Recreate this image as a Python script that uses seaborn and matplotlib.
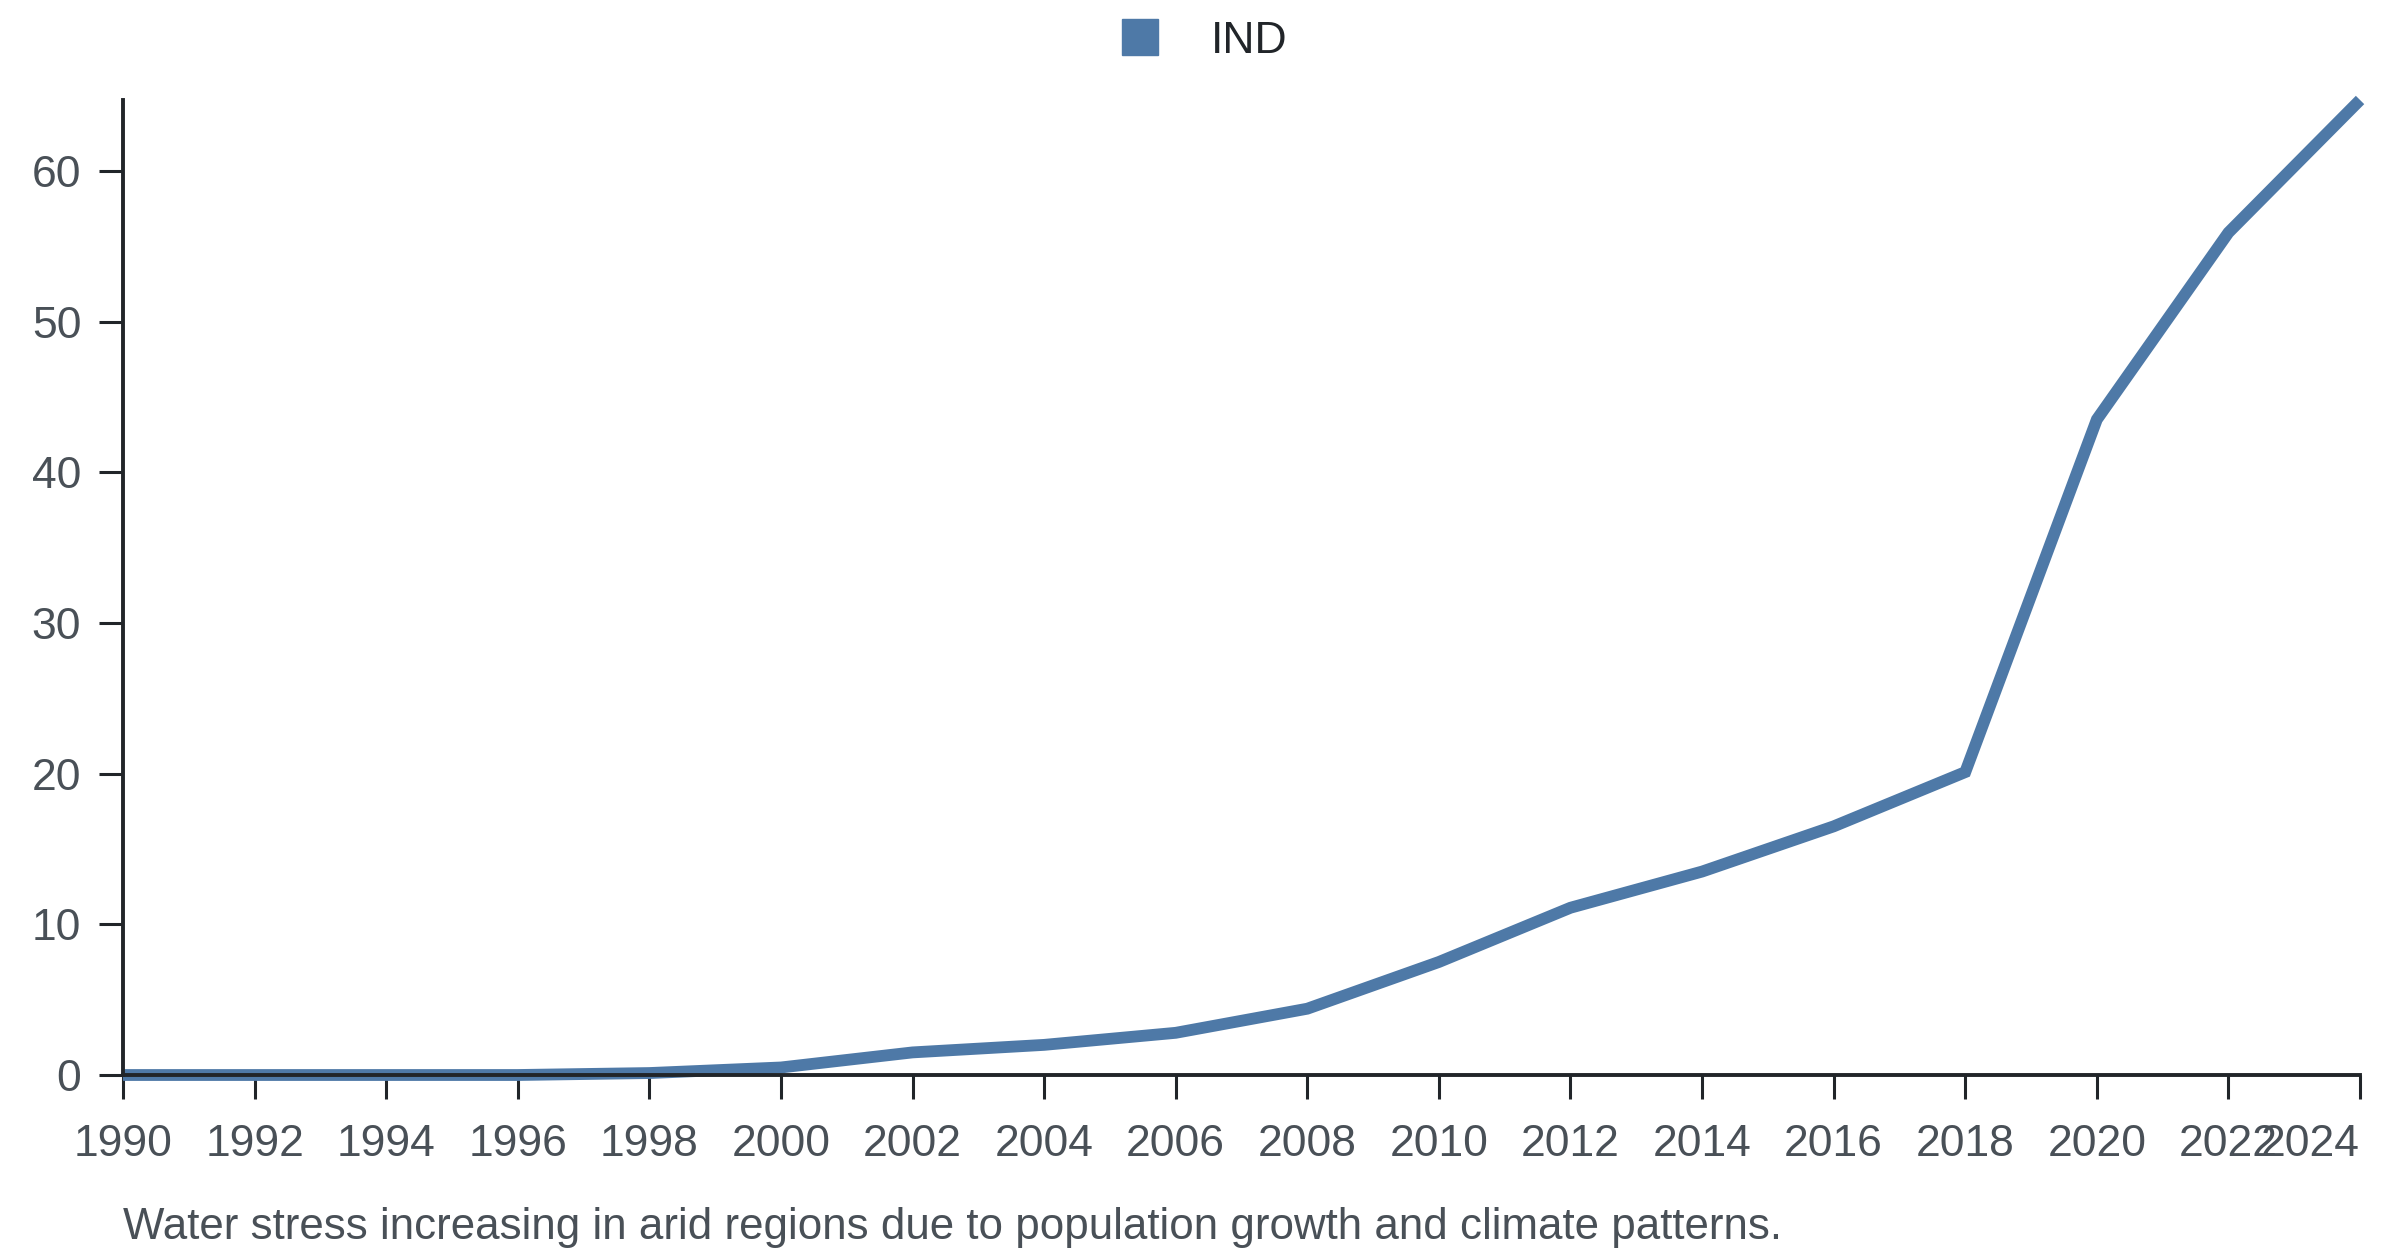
import matplotlib as mpl
mpl.use('Agg')
import numpy as np
import pandas as pd
import seaborn as sns
import matplotlib.pyplot as plt
from matplotlib.lines import Line2D

sns.set_theme(style='white')
plt.rcParams['font.family'] = ['Liberation Sans', 'DejaVu Sans']

# values
years = [1990, 1992, 1994, 1996, 1998, 2000, 2002, 2004, 2006, 2008,
         2010, 2012, 2014, 2016, 2018, 2020, 2022, 2024]
ind = [0.0, 0.0, 0.0, 0.0, 0.13, 0.5, 1.5, 2.0, 2.8, 4.4,
       7.5, 11.1, 13.5, 16.5, 20.1, 43.5, 55.9, 64.7]
series_name = 'IND'
caption = 'Water stress increasing in arid regions due to population growth and climate patterns.'

line_color = '#4e79a7'
axis_color = '#212529'
label_color = '#495057'

df = pd.DataFrame({'year': years, 'value': ind, 'country': series_name})

fig = plt.figure(figsize=(24, 12.56), dpi=100)
ax = fig.add_axes([0.05125, 0.1441, 0.9321, 0.7763])

sns.lineplot(data=df, x='year', y='value', color=line_color, linewidth=8.5,
             legend=False, ax=ax)
for ln in ax.get_lines():
    ln.set_clip_on(False)
    ln.set_solid_capstyle('butt')
    ln.set_solid_joinstyle('miter')

ax.set_xlim(min(years), max(years))
ax.set_ylim(0, max(ind))
ax.set_xticks(years)
ax.set_xticklabels([str(y) for y in years])
ax.set_yticks([0, 10, 20, 30, 40, 50, 60])
ax.set_xlabel('')
ax.set_ylabel('')

for side in ['top', 'right']:
    ax.spines[side].set_visible(False)
for side in ['left', 'bottom']:
    ax.spines[side].set_color(axis_color)
    ax.spines[side].set_linewidth(2.8)
    ax.spines[side].set_zorder(3)

ax.tick_params(axis='both', which='major', length=17, width=2.2, color=axis_color,
               labelsize=32, labelcolor=label_color, bottom=True, left=True)
ax.tick_params(axis='x', pad=18)
ax.tick_params(axis='y', pad=13)
ax.get_xticklabels()[-1].set_horizontalalignment('right')

handle = Line2D([], [], linestyle='none', marker='s', markersize=26,
                markerfacecolor=line_color, markeredgecolor=line_color)
leg = fig.legend([handle], [series_name], loc='center', bbox_to_anchor=(0.501, 0.967),
                 frameon=False, fontsize=32, handlelength=1.0, handletextpad=1.1)
for t in leg.get_texts():
    t.set_color(axis_color)

fig.text(0.05125, 1 - 1227 / 1256, caption, fontsize=31.6, color=label_color,
         ha='left', va='center')

fig.savefig('out.png', dpi=100)
